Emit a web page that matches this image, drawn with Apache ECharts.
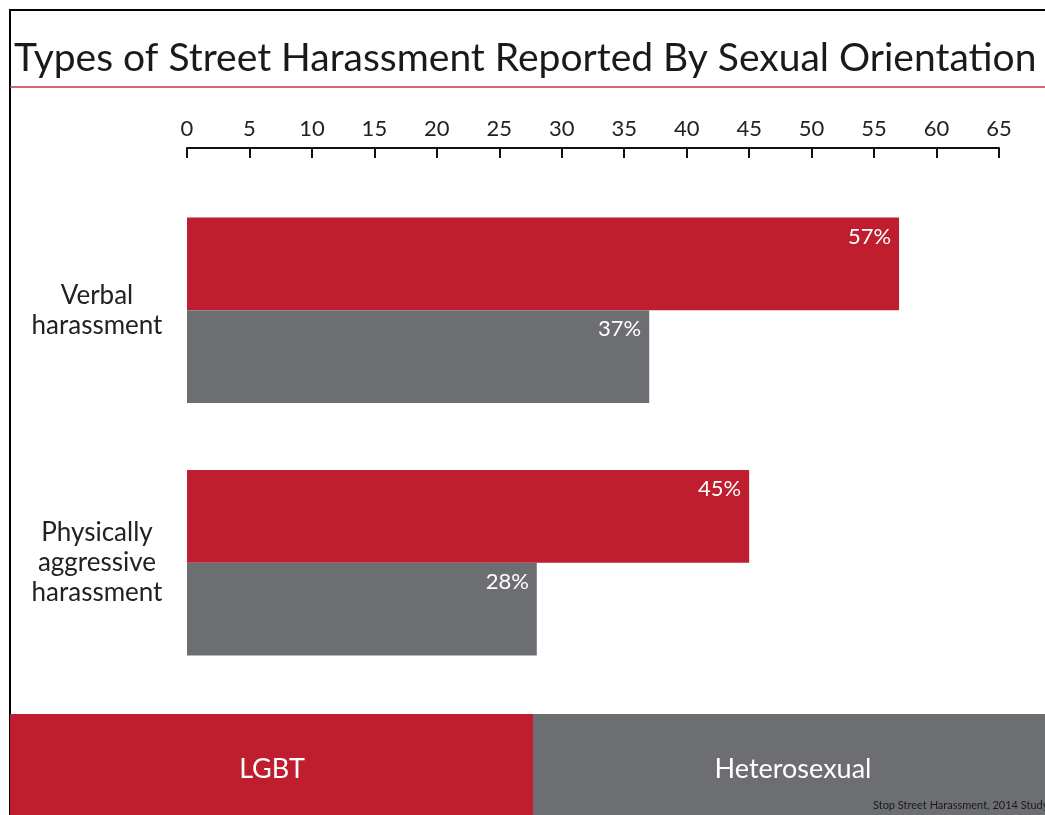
<!DOCTYPE html>
<html>
<head>
<meta charset="utf-8">
<style>
  html, body { margin: 0; padding: 0; background: #fff; }
  #chart { width: 1045px; height: 815px; }
</style>
<script src="https://cdn.jsdelivr.net/npm/echarts@6/dist/echarts.min.js"></script>
</head>
<body>
<div id="chart"></div>
<script>
// chart values
var categories = ['Verbal\nharassment', 'Physically\naggressive\nharassment']
var lgbtValues = [57, 45]
var heteroValues = [37, 28]
var seriesNames = ['LGBT', 'Heterosexual']

var RED = '#be1e2d'
var GREY = '#6d6e71'
var FONT = 'Lato, "Noto Sans", sans-serif'

var myChart = echarts.init(document.getElementById('chart'), null, { renderer: 'canvas' })

var barLabel = {
  show: true,
  position: 'insideTopRight',
  distance: 8,
  formatter: '{c}%',
  color: '#fff',
  fontSize: 22,
  fontFamily: FONT
}

var option = {
  backgroundColor: '#fff',
  animation: false,
  title: {
    text: 'Types of Street Harassment Reported By Sexual Orientation',
    left: 14,
    top: 39,
    padding: 0,
    textStyle: { color: '#1a1a1a', fontSize: 39, fontWeight: 'normal', fontFamily: FONT }
  },
  grid: { left: 187, right: 46, top: 184, bottom: 126 },
  xAxis: {
    type: 'value',
    position: 'top',
    offset: 36,
    min: 0,
    max: 65,
    interval: 5,
    axisLine: { show: true, lineStyle: { color: '#111', width: 2 } },
    axisTick: { show: true, inside: true, length: 10, lineStyle: { color: '#111', width: 2 } },
    axisLabel: { color: '#222', fontSize: 22, fontFamily: FONT, margin: 8 },
    splitLine: { show: false }
  },
  yAxis: {
    type: 'category',
    inverse: true,
    data: categories,
    axisLine: { show: false },
    axisTick: { show: false },
    axisLabel: {
      color: '#222',
      fontSize: 26,
      lineHeight: 30,
      fontFamily: FONT,
      align: 'center',
      margin: 90
    }
  },
  series: [
    {
      name: seriesNames[0],
      type: 'bar',
      data: lgbtValues,
      barGap: 0,
      barCategoryGap: '26.5%',
      itemStyle: { color: RED },
      label: barLabel
    },
    {
      name: seriesNames[1],
      type: 'bar',
      data: heteroValues,
      itemStyle: { color: GREY },
      label: barLabel
    }
  ],
  graphic: [
    // frame
    {
      type: 'polyline',
      shape: { points: [[10, 815], [10, 10], [1045, 10]] },
      style: { stroke: '#000', lineWidth: 2, fill: null }
    },
    // red rule under the title
    {
      type: 'line',
      shape: { x1: 10, y1: 87, x2: 1045, y2: 87 },
      style: { stroke: '#c8323e', lineWidth: 1.5 }
    },
    // legend blocks
    {
      type: 'rect',
      shape: { x: 10, y: 714, width: 523, height: 101 },
      style: { fill: RED }
    },
    {
      type: 'rect',
      shape: { x: 533, y: 714, width: 512, height: 101 },
      style: { fill: GREY }
    },
    {
      type: 'text',
      x: 272, y: 769,
      style: { text: seriesNames[0], fill: '#fff', fontSize: 27, fontFamily: FONT, align: 'center', verticalAlign: 'middle' }
    },
    {
      type: 'text',
      x: 793, y: 769,
      style: { text: seriesNames[1], fill: '#fff', fontSize: 27, fontFamily: FONT, align: 'center', verticalAlign: 'middle' }
    },
    {
      type: 'text',
      x: 873, y: 805,
      style: { text: 'Stop Street Harassment, 2014 Study', fill: '#1a1a1a', fontSize: 11, fontFamily: FONT, align: 'left', verticalAlign: 'middle' }
    }
  ]
}

option && myChart.setOption(option)
</script>
</body>
</html>
